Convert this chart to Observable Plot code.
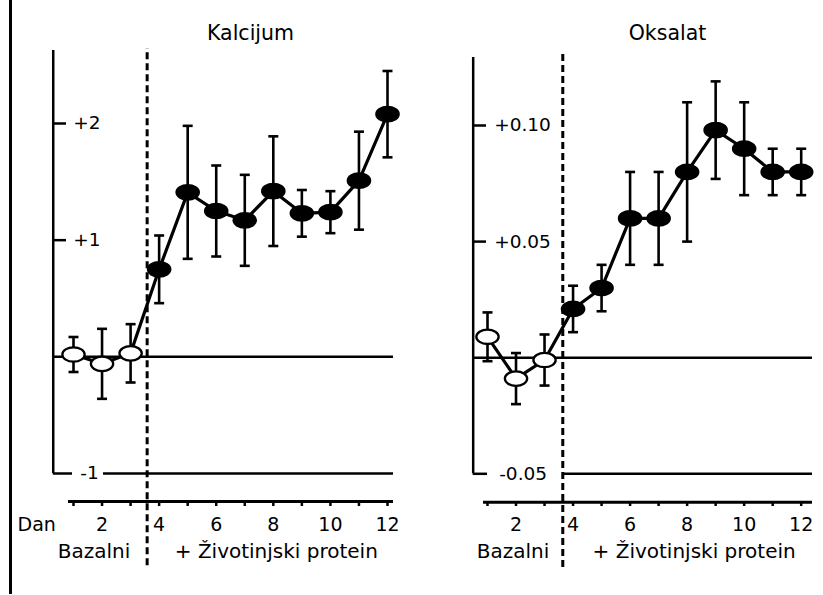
<!DOCTYPE html>
<html>
<head>
<meta charset="utf-8">
<script src="https://cdn.jsdelivr.net/npm/d3@7"></script>
<script src="https://cdn.jsdelivr.net/npm/@observablehq/plot@0.6"></script>
<style>
  body { margin: 0; background: #fff; }
  #wrap { position: relative; width: 823px; height: 595px; overflow: hidden; background: #fff; }
  #border { position: absolute; left: 9px; top: 0; width: 3px; height: 594px; background: #000; }
  #left { position: absolute; left: 0; top: 0; }
  #right { position: absolute; left: 411px; top: 0; }
</style>
</head>
<body>
<div id="wrap"><div id="border"></div><div id="left"></div><div id="right"></div></div>
<script>
// ---------- data ----------
const days = [1, 2, 3, 4, 5, 6, 7, 8, 9, 10, 11, 12];
const baselineDays = [1, 2, 3];

const kalcijumMean = [0.02, -0.06, 0.03, 0.75, 1.41, 1.25, 1.17, 1.42, 1.23, 1.24, 1.51, 2.08];
const kalcijumErr  = [0.15, 0.30, 0.25, 0.29, 0.57, 0.39, 0.39, 0.47, 0.20, 0.18, 0.42, 0.37];

const oksalatMean = [0.009, -0.009, -0.001, 0.021, 0.030, 0.060, 0.060, 0.080, 0.098, 0.090, 0.080, 0.080];
const oksalatErr  = [0.0105, 0.011, 0.011, 0.010, 0.010, 0.020, 0.020, 0.030, 0.021, 0.020, 0.010, 0.010];

const kalcijumTicks = [2, 1, -1];
const kalcijumTickLabels = ["+2", "+1", "-1"];
const oksalatTicks = [0.10, 0.05, -0.05];
const oksalatTickLabels = ["+0.10", "+0.05", "-0.05"];

const xTickValues = days;
const xTickLabels = ["", "2", "", "4", "", "6", "", "8", "", "10", "", "12"];

const titles = ["Kalcijum", "Oksalat"];
const dayLabel = "Dan";
const phaseLabels = ["Bazalni", "+ Životinjski protein"];

// ---------- symbols ----------
function ellipseSymbol(aspect) {
  return {
    draw(ctx, size) {
      const ry = Math.sqrt(size / Math.PI), rx = ry * aspect, k = 0.5523;
      ctx.moveTo(rx, 0);
      ctx.bezierCurveTo(rx, k * ry, k * rx, ry, 0, ry);
      ctx.bezierCurveTo(-k * rx, ry, -rx, k * ry, -rx, 0);
      ctx.bezierCurveTo(-rx, -k * ry, -k * rx, -ry, 0, -ry);
      ctx.bezierCurveTo(k * rx, -ry, rx, -k * ry, rx, 0);
      ctx.closePath();
    }
  };
}
const capSymbol = {
  draw(ctx, size) {
    const w = Math.sqrt(size / Math.PI);
    ctx.moveTo(-w, 0);
    ctx.lineTo(w, 0);
  }
};

// ---------- panel ----------
function panel(cfg) {
  const data = days.map((d, i) => ({
    day: d, v: cfg.mean[i], lo: cfg.mean[i] - cfg.err[i], hi: cfg.mean[i] + cfg.err[i],
    base: baselineDays.includes(d)
  }));
  const L = cfg.layout;
  const ticks = cfg.ticks.map((t, i) => ({t, label: cfg.tickLabels[i], neg: t < 0}));
  const low = d3.min(cfg.ticks);
  return Plot.plot({
    width: cfg.width,
    height: 595,
    marginTop: 25,
    marginBottom: 94,
    marginLeft: cfg.marginLeft,
    marginRight: 0,
    style: {fontFamily: "'DejaVu Sans', sans-serif", fontSize: "19px", color: "black", background: "transparent", overflow: "visible"},
    x: {domain: [1, 12], range: cfg.xRange},
    y: {domain: cfg.yDomain, range: cfg.yRange, axis: null},
    marks: [
      // y axis line
      Plot.ruleX([L.axisPos], {y1: low, y2: L.axisTop, strokeWidth: 2.5}),
      // y ticks and labels
      Plot.ruleY(ticks, {y: "t", x1: L.axisPos, x2: d => d.neg ? L.footEnd : L.tickEnd, strokeWidth: 2.5}),
      Plot.text(ticks.filter(d => !d.neg), {y: "t", x: L.axisPos, text: "label", textAnchor: "start", dx: L.labelDx, fontSize: 18.5}),
      Plot.text(ticks.filter(d => d.neg), {y: "t", x: L.axisPos, text: "label", textAnchor: "start", dx: L.negLabelDx, fontSize: 18.5}),
      // zero line and lower line
      Plot.ruleY([0], {x1: L.axisPos, x2: L.lineEnd, strokeWidth: 2.5}),
      Plot.ruleY([low], {x1: L.lowerStart, x2: L.lineEnd, strokeWidth: 2.5}),
      // x axis line + ticks
      Plot.ruleY([L.xAxisY], {x1: L.xAxisStart, x2: L.lineEnd, strokeWidth: 3}),
      Plot.axisX({ticks: xTickValues, tickFormat: (d, i) => xTickLabels[i], tickSize: 5, tickPadding: 11, strokeWidth: 2.5, fontSize: 19, label: null}),
      // dashed divider
      Plot.ruleX([L.dashX], {y1: L.dashBottom, y2: L.dashTop, strokeWidth: 3, strokeDasharray: "7,4"}),
      // data line
      Plot.line(data, {x: "day", y: "v", strokeWidth: 3.2, stroke: "black"}),
      // error bars
      Plot.ruleX(data, {x: "day", y1: "lo", y2: "hi", strokeWidth: 2.6}),
      Plot.dot(data, {x: "day", y: "lo", symbol: capSymbol, r: 5, stroke: "black", strokeWidth: 2.6, fill: "none"}),
      Plot.dot(data, {x: "day", y: "hi", symbol: capSymbol, r: 5, stroke: "black", strokeWidth: 2.6, fill: "none"}),
      // markers
      Plot.dot(data, {x: "day", y: "v", symbol: ellipseSymbol(1.55), r: 7.2, stroke: "black", strokeWidth: 2.3,
        fill: d => d.base ? "white" : "black"}),
      // title
      Plot.text([cfg.title], {frameAnchor: "top", fontSize: 20.5}),
      // Dan
      ...(cfg.showDan ? [Plot.text([dayLabel], {x: 1, frameAnchor: "bottom", dx: L.danDx, dy: 16, lineAnchor: "top", textAnchor: "start", fontSize: 19})] : []),
      // phase labels
      Plot.text([phaseLabels[0]], {x: 2, frameAnchor: "bottom", dx: L.bazDx, dy: 56, fontSize: 20}),
      Plot.text([phaseLabels[1]], {x: 8, frameAnchor: "bottom", dx: L.protDx, dy: 56, fontSize: 20})
    ]
  });
}

const left = panel({
  title: titles[0], mean: kalcijumMean, err: kalcijumErr,
  ticks: kalcijumTicks, tickLabels: kalcijumTickLabels,
  width: 411, marginLeft: 89, showDan: true,
  xRange: [73, 387], yDomain: [-1, 2], yRange: [473, 123],
  layout: {axisPos: 0.29, axisTop: 2.626, tickEnd: 0.755, footEnd: 0.965, labelDx: 20, negLabelDx: 27,
    lineEnd: 12.21, lowerStart: 2.05, xAxisY: -1.24, xAxisStart: 0.825,
    dashX: 3.58, dashTop: 2.643, dashBottom: -1.79, danDx: -56, bazDx: -8, protDx: 3}
});
const right = panel({
  title: titles[1], mean: oksalatMean, err: oksalatErr,
  ticks: oksalatTicks, tickLabels: oksalatTickLabels,
  width: 412, marginLeft: 100, showDan: false,
  xRange: [76, 389.7], yDomain: [-0.05, 0.10], yRange: [473.3, 125],
  layout: {axisPos: 0.498, axisTop: 0.1293, tickEnd: 0.966, footEnd: 1.0, labelDx: 21, negLabelDx: 26,
    lineEnd: 12.395, lowerStart: 3.63, xAxisY: -0.0622, xAxisStart: 0.86,
    dashX: 3.64, dashTop: 0.1323, dashBottom: -0.0904, danDx: 0, bazDx: -3, protDx: 7}
});
document.getElementById("left").appendChild(left);
document.getElementById("right").appendChild(right);
</script>
</body>
</html>
